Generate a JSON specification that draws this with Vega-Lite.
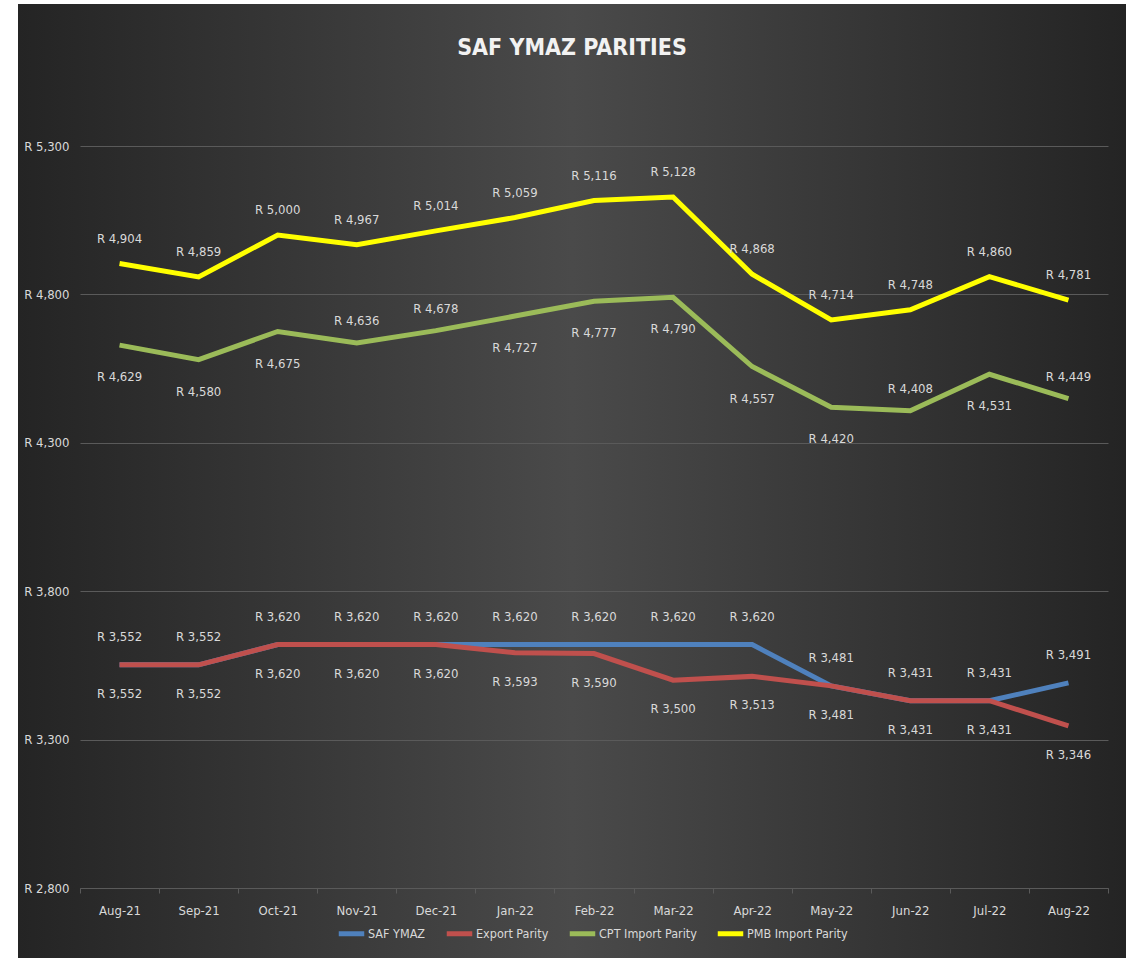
{
  "$schema": "https://vega.github.io/schema/vega-lite/v6.json",
  "width": 1108,
  "height": 954,
  "autosize": {"type": "none"},
  "padding": {"left": 18, "top": 4, "right": 5, "bottom": 0},
  "background": "#ffffff",
  "config": {
    "view": {"stroke": null, "fill": {"gradient": "linear", "x1": 0, "y1": 0, "x2": 1, "y2": 0, "stops": [{"offset": 0, "color": "#242424"}, {"offset": 0.5, "color": "#4a4a4a"}, {"offset": 1, "color": "#242424"}]}},
    "font": "DejaVu Sans Condensed, Liberation Sans Narrow, sans-serif",
    "locale": {"number": {"decimal": ".", "thousands": ",", "grouping": [3], "currency": ["R ", ""]}},
    "legend": {
      "orient": "none", "legendX": 318, "legendY": 914, "direction": "horizontal",
      "title": null, "labelColor": "#d9d9d9", "labelFontSize": 12.5, "labelOffset": 1,
      "columnPadding": 10, "symbolType": "stroke", "symbolStrokeWidth": 5, "symbolSize": 650
    }
  },
  "title": {"text": "SAF YMAZ PARITIES", "color": "#f2f2f2", "fontSize": 23, "fontWeight": "bold", "anchor": "middle", "frame": "group", "orient": "top", "offset": -56},
  "data": {"values": [
    {"month": "Aug-21", "SAF YMAZ": 3552, "Export Parity": 3552, "CPT Import Parity": 4629, "PMB Import Parity": 4904},
    {"month": "Sep-21", "SAF YMAZ": 3552, "Export Parity": 3552, "CPT Import Parity": 4580, "PMB Import Parity": 4859},
    {"month": "Oct-21", "SAF YMAZ": 3620, "Export Parity": 3620, "CPT Import Parity": 4675, "PMB Import Parity": 5000},
    {"month": "Nov-21", "SAF YMAZ": 3620, "Export Parity": 3620, "CPT Import Parity": 4636, "PMB Import Parity": 4967},
    {"month": "Dec-21", "SAF YMAZ": 3620, "Export Parity": 3620, "CPT Import Parity": 4678, "PMB Import Parity": 5014},
    {"month": "Jan-22", "SAF YMAZ": 3620, "Export Parity": 3593, "CPT Import Parity": 4727, "PMB Import Parity": 5059},
    {"month": "Feb-22", "SAF YMAZ": 3620, "Export Parity": 3590, "CPT Import Parity": 4777, "PMB Import Parity": 5116},
    {"month": "Mar-22", "SAF YMAZ": 3620, "Export Parity": 3500, "CPT Import Parity": 4790, "PMB Import Parity": 5128},
    {"month": "Apr-22", "SAF YMAZ": 3620, "Export Parity": 3513, "CPT Import Parity": 4557, "PMB Import Parity": 4868},
    {"month": "May-22", "SAF YMAZ": 3481, "Export Parity": 3481, "CPT Import Parity": 4420, "PMB Import Parity": 4714},
    {"month": "Jun-22", "SAF YMAZ": 3431, "Export Parity": 3431, "CPT Import Parity": 4408, "PMB Import Parity": 4748},
    {"month": "Jul-22", "SAF YMAZ": 3431, "Export Parity": 3431, "CPT Import Parity": 4531, "PMB Import Parity": 4860},
    {"month": "Aug-22", "SAF YMAZ": 3491, "Export Parity": 3346, "CPT Import Parity": 4449, "PMB Import Parity": 4781}
  ]},
  "transform": [{"fold": ["SAF YMAZ", "Export Parity", "CPT Import Parity", "PMB Import Parity"], "as": ["series", "value"]}],
  "encoding": {
    "x": {"field": "month", "type": "ordinal", "sort": null,
      "scale": {"type": "band", "paddingInner": 0, "paddingOuter": 0, "range": [62, 1090]},
      "axis": {"title": null, "labelAngle": 0, "labelColor": "#d9d9d9", "labelFontSize": 13, "domainColor": "#5a5a5a", "tickColor": "#5a5a5a", "tickSize": 5, "tickBand": "extent", "offset": -70, "labelPadding": 11, "grid": false}},
    "y": {"field": "value", "type": "quantitative",
      "scale": {"domain": [2800, 5300], "range": [884, 142], "zero": false, "nice": false},
      "axis": {"title": null, "values": [2800, 3300, 3800, 4300, 4800, 5300], "format": "$,.0f", "labelColor": "#d9d9d9", "labelFontSize": 13, "ticks": false, "domain": false, "grid": true, "gridColor": "#5a5a5a", "gridWidth": 1, "offset": -62, "labelPadding": 11}}
  },
  "layer": [
    {"mark": {"type": "line", "strokeWidth": 5},
     "encoding": {"color": {"field": "series", "type": "nominal",
        "scale": {"domain": ["SAF YMAZ", "Export Parity", "CPT Import Parity", "PMB Import Parity"], "range": ["#4f81bd", "#c0504d", "#9bbb59", "#ffff00"]}}}},
    {"transform": [{"filter": "datum.series === 'PMB Import Parity'"}],
     "mark": {"type": "text", "dy": -25, "fontSize": 13, "color": "#d9d9d9", "baseline": "middle"},
     "encoding": {"text": {"field": "value", "type": "quantitative", "format": "$,.0f"}}},
    {"transform": [{"filter": "datum.series === 'CPT Import Parity' && indexof(['Nov-21','Dec-21','Jun-22','Aug-22'], datum.month) < 0"}],
     "mark": {"type": "text", "dy": 32, "fontSize": 13, "color": "#d9d9d9", "baseline": "middle"},
     "encoding": {"text": {"field": "value", "type": "quantitative", "format": "$,.0f"}}},
    {"transform": [{"filter": "datum.series === 'CPT Import Parity' && indexof(['Nov-21','Dec-21','Jun-22','Aug-22'], datum.month) >= 0"}],
     "mark": {"type": "text", "dy": -22, "fontSize": 13, "color": "#d9d9d9", "baseline": "middle"},
     "encoding": {"text": {"field": "value", "type": "quantitative", "format": "$,.0f"}}},
    {"transform": [{"filter": "datum.series === 'SAF YMAZ'"}],
     "mark": {"type": "text", "dy": -28, "fontSize": 13, "color": "#d9d9d9", "baseline": "middle"},
     "encoding": {"text": {"field": "value", "type": "quantitative", "format": "$,.0f"}}},
    {"transform": [{"filter": "datum.series === 'Export Parity'"}],
     "mark": {"type": "text", "dy": 29, "fontSize": 13, "color": "#d9d9d9", "baseline": "middle"},
     "encoding": {"text": {"field": "value", "type": "quantitative", "format": "$,.0f"}}}
  ]
}
